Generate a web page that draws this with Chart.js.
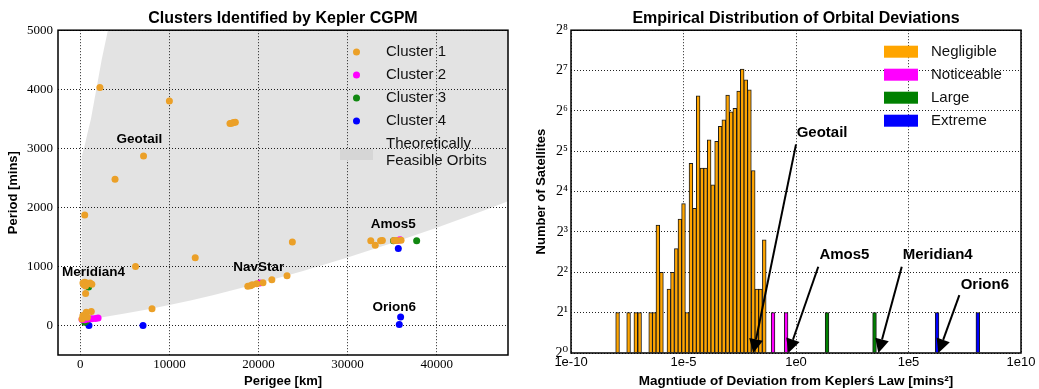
<!DOCTYPE html>
<html>
<head>
<meta charset="utf-8">
<script src="https://cdn.jsdelivr.net/npm/chart.js@4"></script>
<style>
html, body { margin: 0; padding: 0; background: #fff; }
#wrap { position: relative; width: 1039px; height: 389px; }
#left { position: absolute; left: 0; top: 0; }
#right { position: absolute; left: 520px; top: 0; }
</style>
</head>
<body>
<div id="wrap">
<canvas id="left" width="520" height="389"></canvas>
<canvas id="right" width="519" height="389"></canvas>
</div>
<script>
// ---- left panel: [perigee km, period mins]
var cluster1 = [
	[2200, 4030], [10000, 3800], [16800, 3420], [17000, 3425], [17200, 3435], [17400, 3440],
	[7100, 2870], [3900, 2475], [500, 1870], [23800, 1415], [12900, 1145], [6200, 1000], [8050, 285],
	[32600, 1433], [33100, 1360], [33700, 1435], [33900, 1440], [35200, 1440], [35500, 1440], [36000, 1445],
	[18800, 663], [19100, 674], [19300, 690], [19800, 708], [20500, 725], [21500, 776], [23200, 844],
	[300, 720], [500, 730], [700, 720], [900, 710], [1100, 720], [1300, 700], [400, 690], [600, 670],
	[600, 540], [674, 226], [1236, 238], [300, 170], [200, 110], [800, 140]
];
var cluster2 = [
	[20150, 719], [35700, 1444], [35900, 1450],
	[200, 100], [500, 95], [900, 110], [1300, 115], [1700, 120], [2000, 125]
];
var cluster3 = [[936, 651], [37750, 1433], [35150, 1433], [500, 55], [700, 80]];
var cluster4 = [
	[35690, 1302], [35950, 142], [35800, 17], [7040, 0], [974, 0], [487, 96], [860, 113], [700, 60]
];
var clusterNames = ['Cluster 1', 'Cluster 2', 'Cluster 3', 'Cluster 4'];
// outline of the feasible region
var feasibleOrbits = [
	[3100, 5000], [2400, 4500], [1800, 4000], [1200, 3500], [800, 3250], [500, 3050], [300, 2950],
	[150, 2850], [150, 87], [2500, 139], [5000, 201], [7500, 271], [10000, 347], [12500, 428],
	[15000, 518], [20000, 710], [25000, 922], [30000, 1150], [35000, 1396], [40000, 1656],
	[45000, 1931], [48000, 2103], [48000, 5000]
];
var perigeeTicks = [0, 10000, 20000, 30000, 40000];
var periodTicks = [0, 1000, 2000, 3000, 4000, 5000];
var satNames = ['Geotail', 'Meridian4', 'NavStar', 'Amos5', 'Orion6'];
var satPerigee = [6630, 1494, 20034, 35124, 35236];
var satPeriod = [3155, 906, 990, 1711, 300];

// ---- right panel: log10 of deviation (bin centre), bar height on the log2 axis
var negligibleExp = [-7.93, -7.44, -7.12, -6.95, -6.46, -6.30, -6.14, -5.98, -5.65, -5.49, -5.32, -5.16,
	-5.00, -4.84, -4.67, -4.51, -4.35, -4.18, -4.02, -3.86, -3.70, -3.53, -3.37, -3.21, -3.04, -2.88,
	-2.72, -2.55, -2.39, -2.23, -2.07, -1.90, -1.74, -1.58, -1.41];
var negligibleCount = [2, 2, 2, 2, 2, 2, 9, 4, 3, 4, 6, 10, 13, 2, 26, 12, 83, 24, 24, 39, 18, 38,
	49, 55, 84, 63, 67, 90, 131, 109, 92, 23, 3, 3, 7];
var noticeableExp = [-1.02, -0.44];
var noticeableCount = [2, 2];
var largeExp = [1.38, 3.49];
var largeCount = [2, 2];
var extremeExp = [6.27, 8.08];
var extremeCount = [2, 2];
var deviationTicks = [-10, -5, 0, 5, 10];
var countTicks = [1, 2, 4, 8, 16, 32, 64, 128, 256];
var groupNames = ['Negligible', 'Noticeable', 'Large', 'Extreme'];
var arrowNames = ['Geotail', 'Amos5', 'Meridian4', 'Orion6'];
var arrowTextExp = [0.03, 1.04, 4.74, 7.32];
var arrowTextCount = [44, 5.4, 5.4, 3.2];
var arrowTailExp = [0.0, 0.99, 4.70, 7.26];
var arrowTailCount = [36, 4.4, 4.4, 2.7];
var arrowTipExp = [-1.90, -0.34, 3.66, 6.33];
var arrowTipCount = [1, 1, 1, 1];

var SANS = '"Liberation Sans", Arial, sans-serif';
var SERIF = '"Liberation Serif", "DejaVu Serif", serif';
var clusterColors = ['#EBA028', '#FF00FF', '#118811', '#0000FF'];
var groupColors = ['#FFA500', '#FF00FF', '#008000', '#0000FF'];
var SUP = ['\u2070', '\u00b9', '\u00b2', '\u00b3', '\u2074', '\u2075', '\u2076', '\u2077', '\u2078'];

function zip(xs, ys) {
	return xs.map(function(x, i) { return {x: x, y: ys[i]}; });
}

var framePlugin = {
	id: 'frame',
	afterDraw: function(chart) {
		var a = chart.chartArea, ctx = chart.ctx;
		ctx.save();
		ctx.strokeStyle = '#000';
		ctx.lineWidth = 1.5;
		ctx.strokeRect(a.left, a.top, a.right - a.left, a.bottom - a.top);
		ctx.restore();
	}
};

var gridStyle = {color: '#222', lineWidth: 1, drawTicks: false};
var dotted = {display: false, dash: [1, 2]};

// left chart: labels + legend
var leftNotes = {
	id: 'leftNotes',
	afterDraw: function(chart) {
		var ctx = chart.ctx, sx = chart.scales.x, sy = chart.scales.y;
		ctx.save();
		ctx.fillStyle = '#000';
		ctx.font = 'bold 13.5px ' + SANS;
		ctx.textAlign = 'center';
		ctx.textBaseline = 'middle';
		satNames.forEach(function(n, i) {
			ctx.fillText(n, sx.getPixelForValue(satPerigee[i]), sy.getPixelForValue(satPeriod[i]));
		});
		// legend
		ctx.font = '15px ' + SANS;
		ctx.textAlign = 'left';
		clusterNames.forEach(function(n, i) {
			var y = 52 + i * 23;
			ctx.beginPath();
			ctx.fillStyle = clusterColors[i];
			ctx.arc(356.5, y, 3.5, 0, Math.PI * 2);
			ctx.fill();
			ctx.fillStyle = '#111';
			ctx.fillText(n, 386, y);
		});
		ctx.fillStyle = '#d6d6d6';
		ctx.fillRect(340, 149, 33, 11);
		ctx.fillStyle = '#111';
		ctx.fillText('Theoretically', 386, 144);
		ctx.fillText('Feasible Orbits', 386, 161);
		ctx.restore();
	}
};

new Chart(document.getElementById('left'), {
	type: 'scatter',
	data: {
		datasets: [
			{label: clusterNames[0], data: cluster1, backgroundColor: clusterColors[0], pointRadius: 3.5, borderWidth: 0},
			{label: clusterNames[1], data: cluster2, backgroundColor: clusterColors[1], pointRadius: 3.5, borderWidth: 0},
			{label: clusterNames[2], data: cluster3, backgroundColor: clusterColors[2], pointRadius: 3.5, borderWidth: 0},
			{label: clusterNames[3], data: cluster4, backgroundColor: clusterColors[3], pointRadius: 3.5, borderWidth: 0},
			{
				type: 'line', label: 'Theoretically Feasible Orbits', data: feasibleOrbits,
				showLine: true, fill: 'shape', backgroundColor: 'rgba(0,0,0,0.11)',
				borderWidth: 0, borderColor: 'rgba(0,0,0,0)', pointRadius: 0, tension: 0, order: 10
			}
		]
	},
	options: {
		responsive: false,
		animation: false,
		events: [],
		layout: {padding: {left: 0, right: 12, top: 0, bottom: 0}},
		plugins: {
			legend: {display: false},
			tooltip: {enabled: false},
			title: {
				display: true, text: 'Clusters Identified by Kepler CGPM', color: '#000', fullSize: false,
				font: {family: SANS, size: 16, weight: 'bold'}, padding: {top: 9, bottom: 2}
			}
		},
		scales: {
			x: {
				type: 'linear', min: -2500, max: 48000,
				afterFit: function(s) { s.height = 34; },
				afterBuildTicks: function(s) { s.ticks = perigeeTicks.map(function(v) { return {value: v}; }); },
				grid: gridStyle, border: dotted,
				ticks: {color: '#000', font: {family: SERIF, size: 13}, padding: 2, maxRotation: 0,
					callback: function(v) { return String(v); }},
				title: {display: true, text: 'Perigee [km]', color: '#000',
					font: {family: SANS, size: 13, weight: 'bold'}, padding: {top: 0, bottom: 0}}
			},
			y: {
				type: 'linear', min: -500, max: 5000,
				afterFit: function(s) { s.width = 58; },
				afterBuildTicks: function(s) { s.ticks = periodTicks.map(function(v) { return {value: v}; }); },
				grid: gridStyle, border: dotted,
				ticks: {color: '#000', font: {family: SERIF, size: 13}, padding: 5,
					callback: function(v) { return String(v); }},
				title: {display: true, text: 'Period [mins]', color: '#000',
					font: {family: SANS, size: 13, weight: 'bold'}, padding: {top: 6, bottom: 0}}
			}
		}
	},
	plugins: [framePlugin, leftNotes]
});

// right chart: arrows + legend
function drawArrow(ctx, x0, y0, x1, y1) {
	var ang = Math.atan2(y1 - y0, x1 - x0), len = 14, half = 7;
	var bx = x1 - len * Math.cos(ang), by = y1 - len * Math.sin(ang);
	ctx.beginPath();
	ctx.moveTo(x0, y0);
	ctx.lineTo(bx, by);
	ctx.lineWidth = 2;
	ctx.stroke();
	ctx.beginPath();
	ctx.moveTo(x1, y1);
	ctx.lineTo(bx + half * Math.sin(ang), by - half * Math.cos(ang));
	ctx.lineTo(bx - half * Math.sin(ang), by + half * Math.cos(ang));
	ctx.closePath();
	ctx.fill();
}

var rightNotes = {
	id: 'rightNotes',
	afterDraw: function(chart) {
		var ctx = chart.ctx, sx = chart.scales.x, sy = chart.scales.y;
		ctx.save();
		ctx.fillStyle = '#000';
		ctx.strokeStyle = '#000';
		ctx.font = 'bold 15px ' + SANS;
		ctx.textAlign = 'left';
		ctx.textBaseline = 'middle';
		arrowNames.forEach(function(n, i) {
			ctx.fillText(n, sx.getPixelForValue(arrowTextExp[i]), sy.getPixelForValue(arrowTextCount[i]));
			drawArrow(ctx,
				sx.getPixelForValue(arrowTailExp[i]), sy.getPixelForValue(arrowTailCount[i]),
				sx.getPixelForValue(arrowTipExp[i]), sy.getPixelForValue(arrowTipCount[i]));
		});
		ctx.font = '15px ' + SANS;
		groupNames.forEach(function(n, i) {
			var y = 51.7 + i * 23;
			ctx.fillStyle = groupColors[i];
			ctx.fillRect(364, y - 6, 34, 12);
			ctx.fillStyle = '#111';
			ctx.fillText(n, 411, y);
		});
		ctx.restore();
	}
};

function barSet(label, xs, ys, color) {
	return {
		label: label, data: zip(xs, ys), backgroundColor: color, borderColor: '#1a1a1a', borderWidth: 1,
		grouped: false, barThickness: 3.75, maxBarThickness: 3.75, base: 1
	};
}

new Chart(document.getElementById('right'), {
	type: 'bar',
	data: {
		datasets: [
			barSet(groupNames[0], negligibleExp, negligibleCount, groupColors[0]),
			barSet(groupNames[1], noticeableExp, noticeableCount, groupColors[1]),
			barSet(groupNames[2], largeExp, largeCount, groupColors[2]),
			barSet(groupNames[3], extremeExp, extremeCount, groupColors[3])
		]
	},
	options: {
		responsive: false,
		animation: false,
		events: [],
		layout: {padding: {left: 0, right: 18, top: 0, bottom: 0}},
		plugins: {
			legend: {display: false},
			tooltip: {enabled: false},
			title: {
				display: true, text: 'Empirical Distribution of Orbital Deviations', color: '#000', fullSize: false,
				font: {family: SANS, size: 16, weight: 'bold'}, padding: {top: 9, bottom: 2}
			}
		},
		scales: {
			x: {
				type: 'linear', min: -10, max: 10, offset: false,
				afterFit: function(s) { s.height = 36; },
				afterBuildTicks: function(s) { s.ticks = deviationTicks.map(function(v) { return {value: v}; }); },
				grid: Object.assign({offset: false}, gridStyle), border: dotted,
				ticks: {color: '#000', font: {family: SANS, size: 13}, padding: 2, maxRotation: 0,
					callback: function(v) { return '1e' + v; }},
				title: {display: true, text: 'Magntiude of Deviation from Kepler\u015b Law [mins\u00b2]', color: '#000',
					font: {family: SANS, size: 13.5, weight: 'bold'}, padding: {top: 0, bottom: 0}}
			},
			y: {
				type: 'logarithmic', min: 1, max: 256,
				afterFit: function(s) { s.width = 51; },
				afterBuildTicks: function(s) { s.ticks = countTicks.map(function(v) { return {value: v}; }); },
				grid: gridStyle, border: dotted,
				ticks: {color: '#000', font: {family: SERIF, size: 14}, padding: 3,
					callback: function(v) { return '2' + SUP[Math.round(Math.log2(v))]; }},
				title: {display: true, text: 'Number of Satellites', color: '#000',
					font: {family: SANS, size: 13, weight: 'bold'}, padding: {top: 14, bottom: 0}}
			}
		}
	},
	plugins: [framePlugin, rightNotes]
});
</script>
</body>
</html>
